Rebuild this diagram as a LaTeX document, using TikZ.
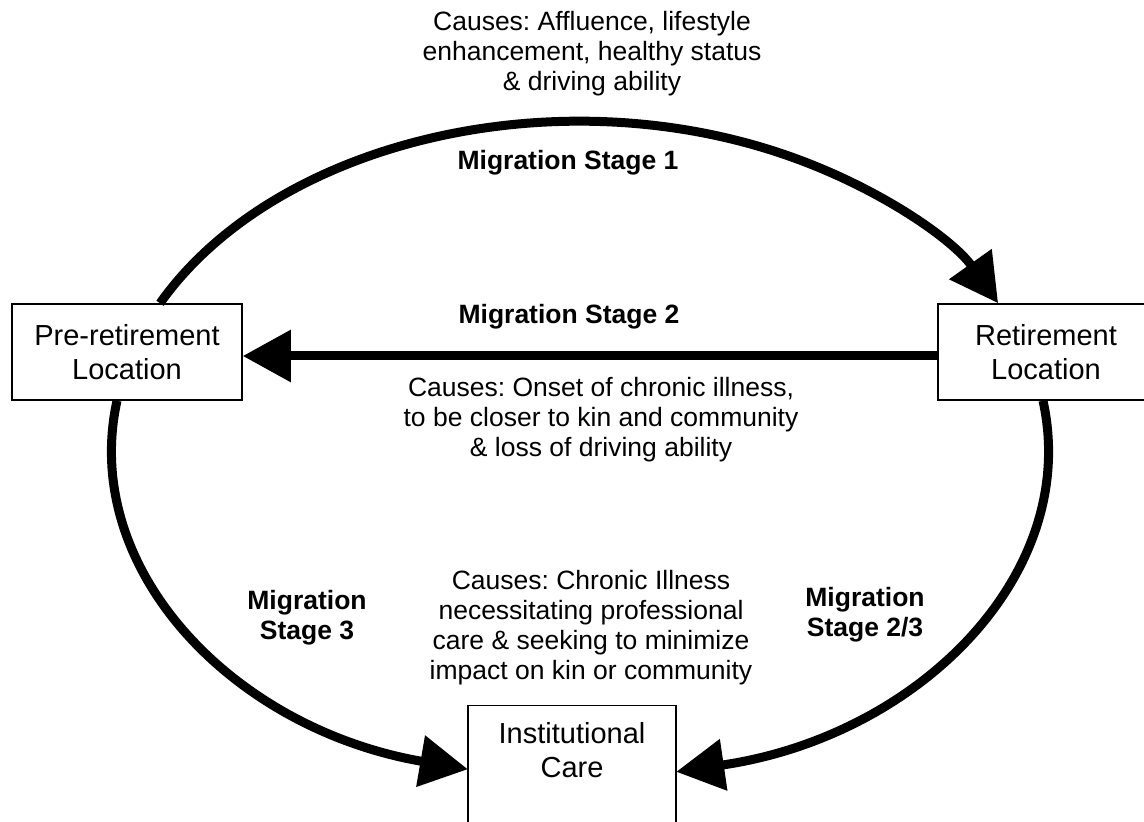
\documentclass[tikz,border=0pt]{standalone}
\usepackage{fontspec}
\setmainfont{Liberation Sans}
\usetikzlibrary{arrows.meta}
\frenchspacing
\begin{document}
\begin{tikzpicture}[x=1pt,y=1pt,
  box/.style={draw, line width=1.5pt, inner sep=0pt, align=center,
    font=\fontsize{29}{34}\selectfont},
  boxtext/.style={inner sep=0pt, align=center, font=\fontsize{29}{34}\selectfont},
  cause/.style={inner sep=0pt, align=center, font=\fontsize{26.5}{30}\selectfont},
  stage/.style={inner sep=0pt, align=center, font=\fontsize{26.5}{30}\selectfont\bfseries},
  conn/.style={line width=9pt, -{Triangle[length=48pt,width=50pt]}}]
\useasboundingbox (0,0) rectangle (1144,822);
\clip (0,0) rectangle (1144,822);
% nodes
\node[box, minimum width=230pt, minimum height=96pt] (pre) at (127,470) {Pre-retirement\\Location};
\node[box, minimum width=216pt, minimum height=96pt] (ret) at (1046,470) {Retirement\\Location};
\node[box, minimum width=208pt, minimum height=150pt, anchor=north] (inst) at (572,117) {};
\node[boxtext] (instlabel) at (572,72) {Institutional\\Care};
% labels
\node[cause] (c1) at (592,768) {Causes: Affluence, lifestyle\\enhancement, healthy status\\\& driving ability};
\node[stage] (s1) at (568,659) {Migration Stage 1};
\node[stage] (s2) at (569,505) {Migration Stage 2};
\node[cause] (c2) at (601,402) {Causes: Onset of chronic illness,\\to be closer to kin and community\\\& loss of driving ability};
\node[cause] (c3) at (591,194) {Causes: Chronic Illness\\necessitating professional\\care \& seeking to minimize\\impact on kin or community};
\node[stage] (s3) at (307,204) {Migration\\Stage 3};
\node[stage] (s23) at (865,207) {Migration\\Stage 2/3};
% connectors
\draw[conn] ([xshift=33pt]pre.north) arc[start angle=153.57, end angle=26.43, x radius=468pt, y radius=328pt];
\draw[conn] ([yshift=-4pt]ret.west) -- ([yshift=-4pt]pre.east);
\draw[conn] ([xshift=-10pt]pre.south) arc[start angle=171.23, end angle=256.2, x radius=468pt, y radius=328pt];
\draw[conn] ([xshift=-3pt]ret.south) arc[start angle=8.77, end angle=-78.2, x radius=468pt, y radius=328pt];
\end{tikzpicture}
\end{document}
